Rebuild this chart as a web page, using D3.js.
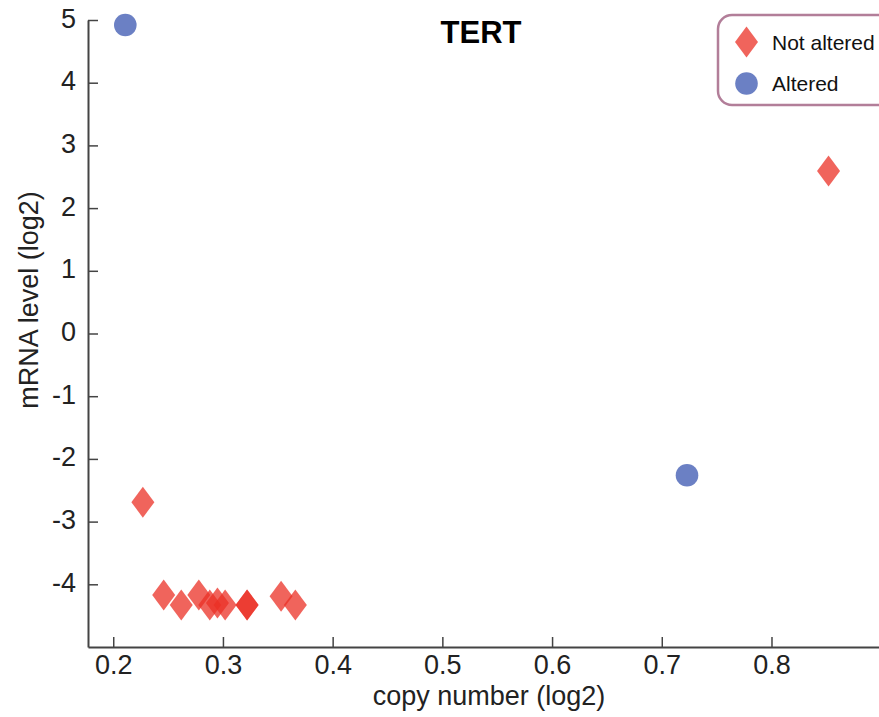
<!DOCTYPE html>
<html>
<head>
<meta charset="utf-8">
<script src="https://cdn.jsdelivr.net/npm/d3@7"></script>
<style>
  body { margin: 0; background: #fff; }
  svg { display: block; font-family: "Liberation Sans", Arial, sans-serif; }
</style>
</head>
<body>
<div id="chart"></div>
<script>
// copy number (log2) vs mRNA level (log2) for TERT
const notAlteredX = [0.852, 0.227, 0.246, 0.262, 0.278, 0.288, 0.295, 0.302, 0.322, 0.322, 0.353, 0.366];
const notAlteredY = [2.59, -2.69, -4.17, -4.33, -4.17, -4.33, -4.30, -4.33, -4.33, -4.33, -4.19, -4.33];
const alteredX = [0.211, 0.723];
const alteredY = [4.92, -2.26];
const xTicks = [0.2, 0.3, 0.4, 0.5, 0.6, 0.7, 0.8];
const yTicks = [-4, -3, -2, -1, 0, 1, 2, 3, 4, 5];
const legendLabels = ["Not altered", "Altered"];

const width = 879, height = 717;
const margin = { top: 20, right: 0, bottom: 70, left: 88 };

const redFill = "#eb3025", blueFill = "#3a55b0";

const svg = d3.select("#chart").append("svg")
  .attr("width", width)
  .attr("height", height);

const x = d3.scaleLinear()
  .domain([0.177, 0.898])
  .range([margin.left, width - margin.right]);

const y = d3.scaleLinear()
  .domain([-5, 5])
  .range([height - margin.bottom, margin.top]);

// axes
const xAxis = svg.append("g")
  .attr("transform", `translate(0,${y(-5)})`)
  .call(d3.axisBottom(x).tickValues(xTicks).tickSizeInner(-10).tickSizeOuter(0).tickPadding(8).tickFormat(d3.format(".1f")));

const yAxis = svg.append("g")
  .attr("transform", `translate(${x.range()[0]},0)`)
  .call(d3.axisLeft(y).tickValues(yTicks).tickSizeInner(-10).tickSizeOuter(0).tickPadding(12).tickFormat(d => String(d)));

[xAxis, yAxis].forEach(g => {
  g.select(".domain").attr("stroke", "#444").attr("stroke-width", 2);
  g.selectAll(".tick line").attr("stroke", "#444").attr("stroke-width", 1.5);
  g.selectAll(".tick text").attr("fill", "#222").style("font-size", "27px");
});
yAxis.selectAll(".tick text").attr("dy", "0.26em");

// axis titles
svg.append("text")
  .attr("x", 489)
  .attr("y", 705)
  .attr("text-anchor", "middle")
  .attr("fill", "#222")
  .style("font-size", "27px")
  .text("copy number (log2)");

svg.append("text")
  .attr("transform", `translate(38,300) rotate(-90)`)
  .attr("text-anchor", "middle")
  .attr("fill", "#222")
  .style("font-size", "27px")
  .text("mRNA level (log2)");

// title
svg.append("text")
  .attr("x", 481)
  .attr("y", 43)
  .attr("text-anchor", "middle")
  .attr("fill", "#000")
  .style("font-size", "31px")
  .style("font-weight", "bold")
  .text("TERT");

const diamond = (cx, cy) => `M${cx},${cy - 15.5}L${cx + 11.5},${cy}L${cx},${cy + 15.5}L${cx - 11.5},${cy}Z`;

// points
svg.append("g")
  .selectAll("path")
  .data(d3.zip(notAlteredX, notAlteredY))
  .join("path")
  .attr("d", d => diamond(x(d[0]), y(d[1])))
  .attr("fill", redFill)
  .attr("fill-opacity", 0.75);

svg.append("g")
  .selectAll("circle")
  .data(d3.zip(alteredX, alteredY))
  .join("circle")
  .attr("cx", d => x(d[0]))
  .attr("cy", d => y(d[1]))
  .attr("r", 11.3)
  .attr("fill", blueFill)
  .attr("fill-opacity", 0.75);

// legend
const legend = svg.append("g");
legend.append("rect")
  .attr("x", 718)
  .attr("y", 15)
  .attr("width", 180)
  .attr("height", 90)
  .attr("rx", 14)
  .attr("fill", "none")
  .attr("stroke", "#b27e99")
  .attr("stroke-width", 2.5);

legend.append("path")
  .attr("d", diamond(746.5, 42))
  .attr("fill", redFill)
  .attr("fill-opacity", 0.75);
legend.append("circle")
  .attr("cx", 746.5)
  .attr("cy", 83.5)
  .attr("r", 11.3)
  .attr("fill", blueFill)
  .attr("fill-opacity", 0.75);

legend.selectAll("text")
  .data(legendLabels)
  .join("text")
  .attr("x", 772)
  .attr("y", (d, i) => 42 + i * 41.5)
  .attr("dy", "0.36em")
  .attr("fill", "#111")
  .style("font-size", "21px")
  .text(d => d);
</script>
</body>
</html>
